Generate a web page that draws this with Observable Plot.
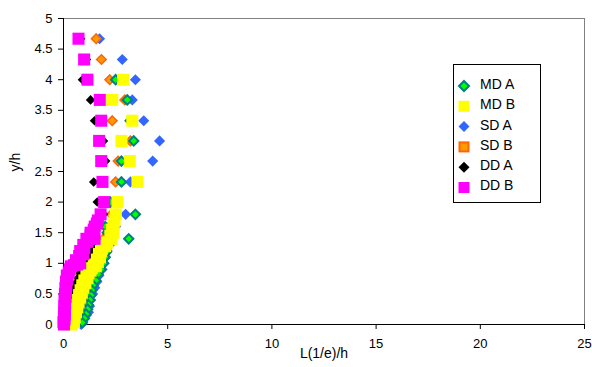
<!DOCTYPE html>
<html>
<head>
<meta charset="utf-8">
<script src="https://cdn.jsdelivr.net/npm/d3@7"></script>
<script src="https://cdn.jsdelivr.net/npm/@observablehq/plot@0.6"></script>
<style>
  html, body { margin: 0; padding: 0; background: #fff; }
  #chart { position: relative; width: 592px; height: 367px; }
</style>
</head>
<body>
<div id="chart"></div>
<script>
// Decay length L(1/e)/h against height y/h, six profiles.
const seriesNames = ["MD A", "MD B", "SD A", "SD B", "DD A", "DD B"];

const xTicks = [0, 5, 10, 15, 20, 25];
const yTicks = [0, 0.5, 1, 1.5, 2, 2.5, 3, 3.5, 4, 4.5, 5];
const yTickLabels = ["0", "0.5", "1", "1.5", "2", "2.5", "3", "3.5", "4", "4.5", "5"];

// [L(1/e)/h, y/h]
const mdA = [
  [2.5, 4.0], [3.06, 3.67], [3.2, 3.33], [3.37, 3.0], [2.78, 2.67], [2.78, 2.33],
  [2.26, 2.0], [3.45, 1.8], [3.13, 1.4],
  [2.0, 1.6], [2.1, 1.5], [2.15, 1.3], [2.05, 1.18], [2.0, 1.1], [1.92, 1.0],
  [1.8, 0.9], [1.66, 0.82], [1.55, 0.72], [1.42, 0.64], [1.36, 0.56], [1.32, 0.48],
  [1.27, 0.4], [1.2, 0.32], [1.16, 0.25], [1.08, 0.17], [1.0, 0.1], [0.9, 0.03]
];
const mdB = [
  [2.86, 4.0], [2.34, 3.67], [3.3, 3.33], [2.78, 3.0], [3.18, 2.67], [3.55, 2.33],
  [2.59, 2.0], [2.51, 1.8],
  [2.45, 1.7], [2.4, 1.62], [2.32, 1.55], [2.4, 1.5], [2.25, 1.45], [2.3, 1.4],
  [2.1, 1.34], [2.0, 1.28], [1.85, 1.24], [1.8, 1.2], [1.7, 1.15], [1.75, 1.1],
  [1.6, 1.06], [1.65, 1.02], [1.45, 0.98], [1.55, 0.95], [1.35, 0.92], [1.3, 0.88],
  [1.2, 0.84], [1.1, 0.8], [1.15, 0.76], [1.0, 0.72], [1.05, 0.68], [0.9, 0.64],
  [0.95, 0.6], [0.82, 0.56], [0.88, 0.52], [0.75, 0.48], [0.8, 0.44], [0.68, 0.4],
  [0.72, 0.36], [0.62, 0.32], [0.66, 0.28], [0.55, 0.24], [0.6, 0.2], [0.48, 0.16],
  [0.54, 0.12], [0.42, 0.08], [0.5, 0.04], [0.38, 0.0]
];
const sdA = [
  [1.73, 4.67], [2.82, 4.33], [3.45, 4.0], [3.3, 3.67], [3.85, 3.33], [4.61, 3.0],
  [4.28, 2.67], [3.21, 2.33], [2.98, 1.8],
  [2.5, 1.6], [2.3, 1.45], [2.2, 1.3], [2.1, 1.2], [2.0, 1.1], [1.95, 1.0],
  [1.85, 0.9], [1.7, 0.8], [1.6, 0.7], [1.5, 0.6], [1.4, 0.5], [1.3, 0.4],
  [1.25, 0.3], [1.2, 0.2], [1.1, 0.15], [1.0, 0.1], [0.92, 0.05], [0.85, 0.0]
];
const sdB = [
  [1.57, 4.67], [1.82, 4.33], [2.22, 4.0], [2.94, 3.67], [2.34, 3.33], [3.21, 3.0],
  [2.62, 2.67], [2.5, 2.33], [2.2, 2.0], [2.3, 1.8], [1.92, 1.4],
  [2.2, 1.6], [2.1, 1.5], [1.7, 1.3], [1.5, 1.2], [1.3, 1.1], [1.1, 1.0],
  [1.0, 0.92], [0.85, 0.82], [0.7, 0.72], [0.6, 0.62], [0.5, 0.5], [0.4, 0.35], [0.3, 0.2]
];
const ddA = [
  [0.82, 4.67], [1.1, 4.33], [0.91, 4.0], [1.3, 3.67], [1.49, 3.33], [1.92, 3.0],
  [2.02, 2.67], [1.45, 2.33], [1.62, 2.0], [1.92, 1.8],
  [1.6, 1.6], [1.5, 1.45], [1.4, 1.3], [1.3, 1.2], [1.2, 1.1], [1.05, 1.02],
  [1.0, 0.96], [0.9, 0.9], [0.8, 0.84], [0.7, 0.76], [0.62, 0.68], [0.55, 0.6],
  [0.45, 0.52], [0.35, 0.45]
];
const ddB = [
  [0.72, 4.67], [0.99, 4.33], [1.15, 4.0], [1.74, 3.67], [1.81, 3.33], [1.71, 3.0],
  [1.81, 2.67], [1.87, 2.33], [1.95, 2.0], [1.78, 1.8], [1.49, 1.4],
  [1.65, 1.7], [1.6, 1.65], [1.5, 1.6], [1.45, 1.55], [1.3, 1.5], [1.3, 1.45],
  [1.1, 1.4], [1.15, 1.35], [0.95, 1.3], [1.0, 1.25], [0.8, 1.2], [0.95, 1.15],
  [0.75, 1.12], [0.6, 1.05], [0.8, 1.0], [0.65, 0.98], [0.5, 0.97], [0.35, 0.95],
  [0.3, 0.9], [0.25, 0.85], [0.16, 0.8], [0.18, 0.75], [0.12, 0.7], [0.14, 0.65],
  [0.09, 0.6], [0.12, 0.55], [0.07, 0.5], [0.1, 0.45], [0.05, 0.4], [0.08, 0.35],
  [0.04, 0.3], [0.07, 0.25], [0.03, 0.2], [0.06, 0.16], [0.02, 0.12], [0.05, 0.08],
  [0.0, 0.04], [0.02, 0.0]
];

const seriesData = {"MD A": mdA, "MD B": mdB, "SD A": sdA, "SD B": sdB, "DD A": ddA, "DD B": ddB};

// Marker styles per series
const styles = {
  "MD A": {symbol: "diamond2", r: 4.2, fill: "#00ff00", stroke: "#008080", strokeWidth: 2},
  "MD B": {symbol: "square", r: 6.8, fill: "#ffff00", stroke: "none", strokeWidth: 0},
  "SD A": {symbol: "diamond2", r: 5.0, fill: "#3366ff", stroke: "none", strokeWidth: 0},
  "SD B": {symbol: "diamond2", r: 4.3, fill: "#ff9900", stroke: "#ff6600", strokeWidth: 1.5},
  "DD A": {symbol: "diamond2", r: 4.3, fill: "#000000", stroke: "none", strokeWidth: 0},
  "DD B": {symbol: "square", r: 6.8, fill: "#ff00ff", stroke: "none", strokeWidth: 0}
};
const legendStyles = {
  "MD A": {type: "diamond", size: 5, fill: "#00ff00", stroke: "#008080", sw: 2},
  "MD B": {type: "square", size: 11, fill: "#ffff00", stroke: "none", sw: 0},
  "SD A": {type: "diamond", size: 5.5, fill: "#3366ff", stroke: "none", sw: 0},
  "SD B": {type: "square", size: 9, fill: "#ff9900", stroke: "#ff6600", sw: 2},
  "DD A": {type: "diamond", size: 5.5, fill: "#000000", stroke: "none", sw: 0},
  "DD B": {type: "square", size: 11, fill: "#ff00ff", stroke: "none", sw: 0}
};

// Drawing order (later series on top)
const drawOrder = ["SD A", "SD B", "DD A", "MD A", "MD B", "DD B"];

const font = "Arial, 'Liberation Sans', sans-serif";

const dotMarks = drawOrder.map(name => {
  const s = styles[name];
  return Plot.dot(seriesData[name], {
    x: d => d[0], y: d => d[1],
    symbol: s.symbol, r: s.r, fill: s.fill, stroke: s.stroke, strokeWidth: s.strokeWidth
  });
});

const chart = Plot.plot({
  width: 592,
  height: 367,
  marginLeft: 63,
  marginRight: 8,
  marginTop: 18,
  marginBottom: 43,
  style: {fontFamily: font, fontSize: "13px", color: "#000", background: "#fff", overflow: "visible"},
  x: {domain: [0, 25]},
  y: {domain: [0, 5]},
  marks: [
    Plot.frame({stroke: "#808080"}),
    Plot.ruleX([0], {stroke: "#000"}),
    Plot.ruleY([0], {stroke: "#000"}),
    Plot.axisX({ticks: xTicks, tickSize: 5, tickPadding: 9, label: null, stroke: "#000", fontSize: 13}),
    Plot.axisY({ticks: yTicks, tickSize: 5, tickPadding: 6, label: null, stroke: "#000", fontSize: 13,
      tickFormat: d => yTickLabels[yTicks.indexOf(d)]}),
    Plot.text(["L(1/e)/h"], {frameAnchor: "bottom", dy: 33, fontSize: 14, fill: "#000"}),
    Plot.text(["y/h"], {frameAnchor: "left", dx: -48, rotate: -90, fontSize: 14, fill: "#000"}),
    ...dotMarks
  ]
});

document.getElementById("chart").appendChild(chart);

// Legend box inside the plot area
const svg = d3.select(chart);
const lg = svg.append("g").attr("transform", "translate(453,64)");
lg.append("rect").attr("x", 0.5).attr("y", 0.5).attr("width", 87).attr("height", 138)
  .attr("fill", "#fff").attr("stroke", "#000").attr("stroke-width", 1);
seriesNames.forEach((name, i) => {
  const ls = legendStyles[name];
  const cy = 22 + i * 20.3;
  const cx = 11;
  if (ls.type === "diamond") {
    const h = ls.size;
    lg.append("path")
      .attr("d", `M${cx},${cy - h}L${cx + h},${cy}L${cx},${cy + h}L${cx - h},${cy}Z`)
      .attr("fill", ls.fill).attr("stroke", ls.stroke).attr("stroke-width", ls.sw);
  } else {
    const w = ls.size;
    lg.append("rect").attr("x", cx - w / 2).attr("y", cy - w / 2).attr("width", w).attr("height", w)
      .attr("fill", ls.fill).attr("stroke", ls.stroke).attr("stroke-width", ls.sw);
  }
  lg.append("text").attr("x", 27).attr("y", cy - 2).attr("dy", "0.35em")
    .attr("text-anchor", "start")
    .attr("font-family", font).attr("font-size", 14).attr("fill", "#000").text(name);
});
</script>
</body>
</html>
